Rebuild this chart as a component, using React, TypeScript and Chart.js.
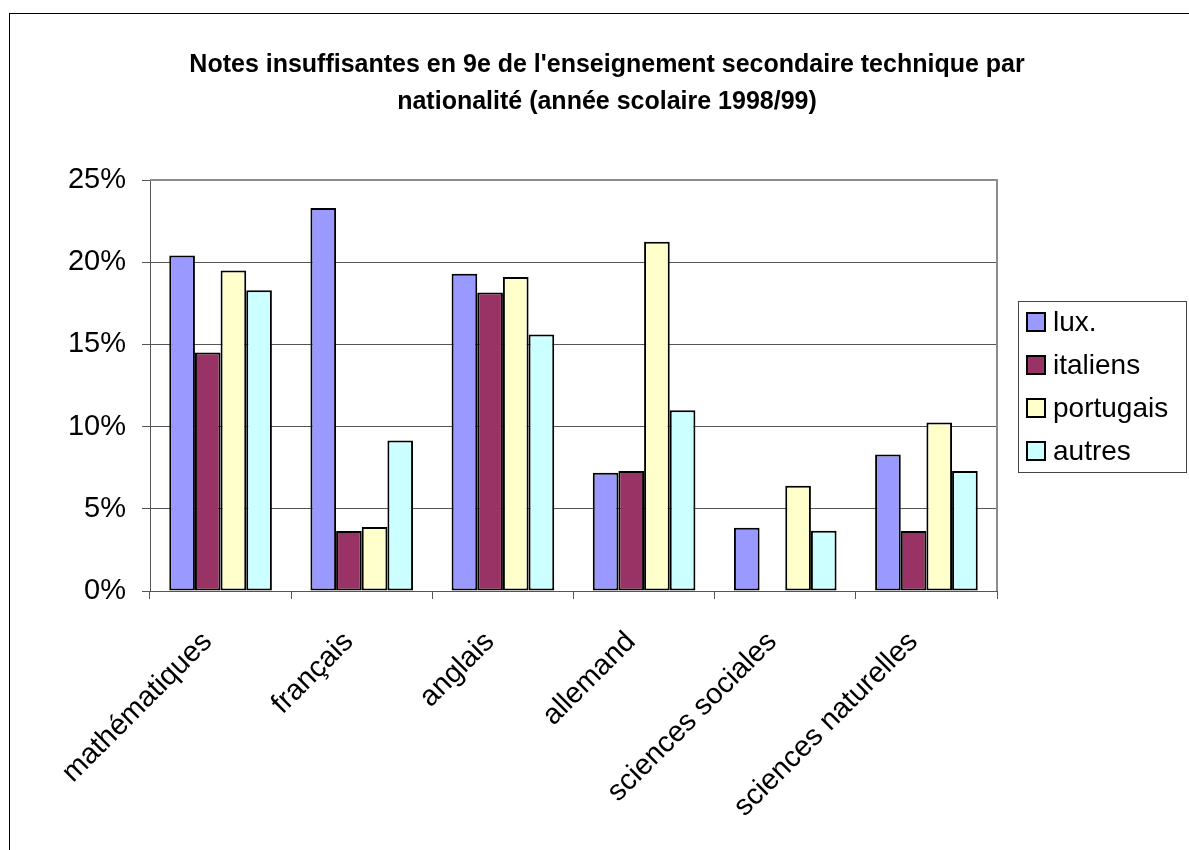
import React, { useEffect, useRef } from "react";
import { Chart, registerables } from "chart.js";

Chart.register(...registerables);

const categories = [
  "mathématiques",
  "français",
  "anglais",
  "allemand",
  "sciences sociales",
  "sciences naturelles",
];

const seriesNames = ["lux.", "italiens", "portugais", "autres"];

const lux = [0.204, 0.233, 0.193, 0.072, 0.0385, 0.083];
const italiens = [0.145, 0.0365, 0.1815, 0.073, null, 0.0365];
const portugais = [0.195, 0.039, 0.191, 0.2125, 0.064, 0.1025];
const autres = [0.183, 0.0915, 0.156, 0.11, 0.0367, 0.073];

const seriesColors = ["#9999FF", "#993366", "#FFFFCC", "#CCFFFF"];

const yTicks = [0, 0.05, 0.1, 0.15, 0.2, 0.25];

const titleLines = [
  "Notes insuffisantes en 9e de l'enseignement secondaire technique par",
  "nationalité (année scolaire 1998/99)",
];

const FONT = "'Liberation Sans', Arial, sans-serif";

export default function App() {
  const ref = useRef<HTMLCanvasElement | null>(null);

  useEffect(() => {
    const canvas = ref.current;
    if (!canvas) return;

    const decor = {
      id: "decor",
      beforeDraw(chart: any) {
        const ctx = chart.ctx;
        ctx.save();
        ctx.fillStyle = "#ffffff";
        ctx.fillRect(0, 0, chart.width, chart.height);
        ctx.strokeStyle = "#000000";
        ctx.lineWidth = 1;
        ctx.strokeRect(9.5, 13.5, 1300, 1000);
        ctx.restore();
      },
      afterDatasetsDraw(chart: any) {
        const ctx = chart.ctx;
        const a = chart.chartArea;
        ctx.save();
        // plot border top & right
        ctx.strokeStyle = "#8c8c8c";
        ctx.lineWidth = 2;
        ctx.beginPath();
        ctx.moveTo(a.left, a.top);
        ctx.lineTo(a.right, a.top);
        ctx.lineTo(a.right, a.bottom);
        ctx.stroke();
        // title
        ctx.fillStyle = "#000";
        ctx.font = `bold 25px ${FONT}`;
        ctx.textAlign = "center";
        ctx.textBaseline = "alphabetic";
        ctx.fillText(titleLines[0], 607, 72);
        ctx.fillText(titleLines[1], 607, 109);
        // legend
        const lx = 1018, ly = 301, lw = 168, lh = 171;
        ctx.strokeStyle = "#444";
        ctx.lineWidth = 1;
        ctx.strokeRect(lx + 0.5, ly + 0.5, lw, lh);
        ctx.font = `28px ${FONT}`;
        ctx.textAlign = "left";
        ctx.textBaseline = "middle";
        seriesNames.forEach((name, i) => {
          const cy = 322 + i * 43;
          ctx.fillStyle = seriesColors[i];
          ctx.fillRect(1027, cy - 9, 18, 18);
          ctx.strokeStyle = "#000";
          ctx.lineWidth = 2;
          ctx.strokeRect(1027, cy - 9, 18, 18);
          ctx.fillStyle = "#000";
          ctx.fillText(name, 1053, cy + 1);
        });
        ctx.restore();
      },
    };

    const mk = (label: string, data: (number | null)[], color: string) => ({
      label,
      data,
      backgroundColor: color,
      borderColor: "#000000",
      borderWidth: 2,
      borderSkipped: false,
      categoryPercentage: 0.727,
      barPercentage: 1.0,
    });

    const chart = new Chart(canvas, {
      type: "bar",
      data: {
        labels: categories,
        datasets: [
          mk(seriesNames[0], lux, seriesColors[0]),
          mk(seriesNames[1], italiens, seriesColors[1]),
          mk(seriesNames[2], portugais, seriesColors[2]),
          mk(seriesNames[3], autres, seriesColors[3]),
        ],
      },
      options: {
        responsive: false,
        animation: false,
        devicePixelRatio: 1,
        layout: { padding: { top: 180, right: 192, bottom: 0, left: 0 } },
        plugins: {
          legend: { display: false },
          title: { display: false },
          tooltip: { enabled: false },
        },
        scales: {
          x: {
            afterFit: (s: any) => {
              s.height = 259;
            },
            grid: {
              offset: true,
              drawOnChartArea: false,
              drawTicks: true,
              tickLength: 8,
              color: "#555",
            },
            border: { display: true, color: "#555", width: 1 },
            ticks: {
              maxRotation: 45,
              minRotation: 45,
              autoSkip: false,
              padding: 26,
              labelOffset: -13,
              color: "#000",
              font: { family: FONT, size: 29 },
            },
          },
          y: {
            min: 0,
            max: 0.25,
            afterFit: (s: any) => {
              s.width = 150;
            },
            afterBuildTicks: (s: any) => {
              s.ticks = yTicks.map((v) => ({ value: v }));
            },
            grid: {
              color: "#555",
              tickLength: 8,
              lineWidth: 1,
            },
            border: { display: true, color: "#555", width: 1 },
            ticks: {
              padding: 16,
              color: "#000",
              font: { family: FONT, size: 29 },
              callback: (v: any) => Math.round(Number(v) * 100) + "%",
            },
          },
        },
      },
      plugins: [decor],
    });

    return () => chart.destroy();
  }, []);

  return (
    <div style={{ position: "absolute", left: 0, top: 0, width: 1189, height: 850 }}>
      <canvas ref={ref} width={1189} height={850} style={{ display: "block" }} />
    </div>
  );
}
